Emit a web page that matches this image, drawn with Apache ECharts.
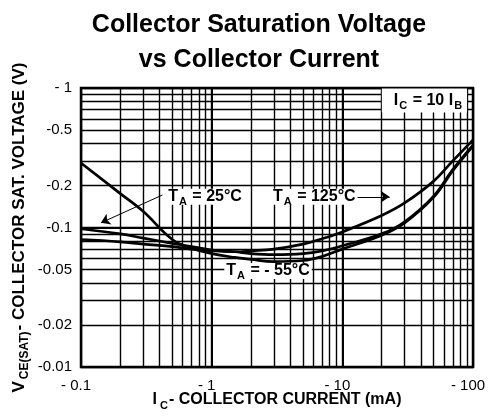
<!DOCTYPE html>
<html>
<head>
<meta charset="utf-8">
<script src="https://cdn.jsdelivr.net/npm/echarts@6/dist/echarts.min.js"></script>
<style>
  html, body { margin: 0; padding: 0; background: #fff; }
  #chart { width: 490px; height: 419px; }
</style>
</head>
<body>
<div id="chart"></div>
<script>
// collector current, mA
var currentMA = [0.1, 0.2, 0.3, 0.5, 0.7, 1, 1.5, 2, 3, 5, 7, 10, 20, 30, 50, 70, 100];
// VCE(sat), V
var vsatM55 = [0.29, 0.175, 0.13, 0.082, 0.071, 0.065, 0.061, 0.059, 0.057, 0.058, 0.062, 0.07, 0.088, 0.108, 0.165, 0.255, 0.385];
var vsat25 = [0.098, 0.09, 0.084, 0.077, 0.073, 0.069, 0.067, 0.065, 0.064, 0.065, 0.068, 0.074, 0.09, 0.11, 0.168, 0.26, 0.39];
var vsat125 = [0.082, 0.079, 0.076, 0.073, 0.07, 0.068, 0.067, 0.068, 0.07, 0.076, 0.083, 0.093, 0.122, 0.15, 0.215, 0.3, 0.425];

var xLabelValues = [0.1, 1, 10, 100];
var yLabelValues = [0.01, 0.02, 0.05, 0.1, 0.2, 0.5, 1];
var xGridValues = [0.1, 0.2, 0.3, 0.4, 0.5, 0.6, 0.7, 0.8, 0.9, 1, 2, 3, 4, 5, 6, 7, 8, 9, 10, 20, 30, 40, 50, 60, 70, 80, 90, 100];
var yGridValues = [0.01, 0.02, 0.03, 0.04, 0.05, 0.06, 0.07, 0.08, 0.09, 0.1, 0.2, 0.3, 0.4, 0.5, 0.6, 0.7, 0.8, 0.9, 1];

var FONT = 'Liberation Sans, Arial, sans-serif';

function pair(a) {
  return a.map(function (v, i) { return [currentMA[i], v]; });
}
function num(v) {
  return String(parseFloat(Number(v).toPrecision(6)));
}

var chart = echarts.init(document.getElementById('chart'));

var boldRich = {
  t: { fontFamily: FONT, fontSize: 16, fontWeight: 'bold', color: '#000', verticalAlign: 'bottom' },
  s: { fontFamily: FONT, fontSize: 11, fontWeight: 'bold', color: '#000', verticalAlign: 'bottom', padding: [0, 1, -3, 1] }
};

function tag(text, coord, pad) {
  return {
    coord: coord,
    symbol: 'rect',
    symbolSize: 1,
    itemStyle: { color: 'rgba(0,0,0,0)' },
    label: {
      show: true,
      position: 'inside',
      formatter: text,
      backgroundColor: '#fff',
      padding: pad || [0, 2, 0, 2],
      rich: boldRich
    }
  };
}

var curveStyle = { color: '#000', width: 2.7 };

option = {
  animation: false,
  title: {
    text: 'Collector Saturation Voltage\nvs Collector Current',
    left: 254,
    top: 3,
    textAlign: 'center',
    textStyle: { fontFamily: FONT, fontSize: 25, fontWeight: 'bold', color: '#000', lineHeight: 35 }
  },
  grid: {
    left: 81, top: 88, right: 17, bottom: 52,
    show: true, borderColor: '#000', borderWidth: 2.5,
    outerBoundsMode: 'none'
  },
  xAxis: {
    type: 'log',
    logBase: 10,
    min: 0.1,
    max: 100,
    name: '{s|I}{t|C}{s|- COLLECTOR CURRENT (mA)}',
    nameLocation: 'middle',
    nameGap: 25,
    nameMoveOverlap: false,
    nameTextStyle: {
      rich: {
        s: { fontFamily: FONT, fontSize: 16, fontWeight: 'bold', color: '#000', verticalAlign: 'bottom' },
        t: { fontFamily: FONT, fontSize: 11, fontWeight: 'bold', color: '#000', verticalAlign: 'bottom', padding: [0, 1, -3, 3] }
      }
    },
    axisLine: { show: false },
    axisTick: { show: false, customValues: xGridValues },
    splitLine: { show: true, lineStyle: { color: '#000', width: 1.4 } },
    axisLabel: {
      customValues: xLabelValues,
      margin: 11,
      fontFamily: FONT,
      fontSize: 15,
      color: '#000',
      padding: [0, 10, 0, 0],
      formatter: function (v) { return '- ' + num(v); }
    }
  },
  yAxis: {
    type: 'log',
    logBase: 10,
    min: 0.01,
    max: 1,
    name: '{s|V}{t|CE(SAT)}{s|- COLLECTOR SAT. VOLTAGE (V)}',
    nameLocation: 'middle',
    nameRotate: 90,
    nameGap: 53,
    nameMoveOverlap: false,
    nameTextStyle: {
      rich: {
        s: { fontFamily: FONT, fontSize: 17, fontWeight: 'bold', color: '#000', verticalAlign: 'bottom' },
        t: { fontFamily: FONT, fontSize: 12, fontWeight: 'bold', color: '#000', verticalAlign: 'bottom', padding: [0, 1, -3, 2] }
      }
    },
    axisLine: { show: false },
    axisTick: { show: false, customValues: yGridValues },
    splitLine: { show: true, lineStyle: { color: '#000', width: 1.4 } },
    axisLabel: {
      customValues: yLabelValues,
      margin: 9,
      fontFamily: FONT,
      fontSize: 15,
      color: '#000',
      formatter: function (v) { return v === 1 ? '- 1' : '-' + num(v); }
    }
  },
  series: [
    {
      name: 'TA = -55°C',
      type: 'line',
      smooth: 0.4,
      showSymbol: false,
      lineStyle: curveStyle,
      data: pair(vsatM55),
      markLine: {
        silent: true,
        symbol: 'none',
        label: { show: false },
        lineStyle: { color: '#000', width: 2, type: 'solid' },
        data: [{ xAxis: 1 }, { xAxis: 10 }, { yAxis: 0.1 }]
      },
      markPoint: {
        silent: true,
        data: [
          tag('{t|T}{s|A}{t| = - 55°C}', [2.7, 0.0488]),
          tag('{t|T}{s|A}{t| = 25°C}', [0.89, 0.166]),
          tag('{t|T}{s|A}{t| = 125°C}', [6.1, 0.166]),
          tag('{t|I}{s|C}{t| = 10 I}{s|B}', [42.5, 0.814], [4, 4, 4, 12])
        ]
      }
    },
    {
      name: 'TA = 25°C',
      type: 'line',
      smooth: 0.4,
      showSymbol: false,
      lineStyle: curveStyle,
      data: pair(vsat25),
      markLine: {
        silent: true,
        symbol: ['none', 'arrow'],
        symbolSize: 9,
        label: { show: false },
        lineStyle: { color: '#000', width: 1, type: 'solid' },
        data: [
          [{ coord: [0.42, 0.171] }, { coord: [0.142, 0.108] }],
          [{ coord: [12.4, 0.166] }, { coord: [23, 0.166] }]
        ]
      }
    },
    {
      name: 'TA = 125°C',
      type: 'line',
      smooth: 0.4,
      showSymbol: false,
      lineStyle: curveStyle,
      data: pair(vsat125)
    }
  ]
};

chart.setOption(option);
</script>
</body>
</html>
